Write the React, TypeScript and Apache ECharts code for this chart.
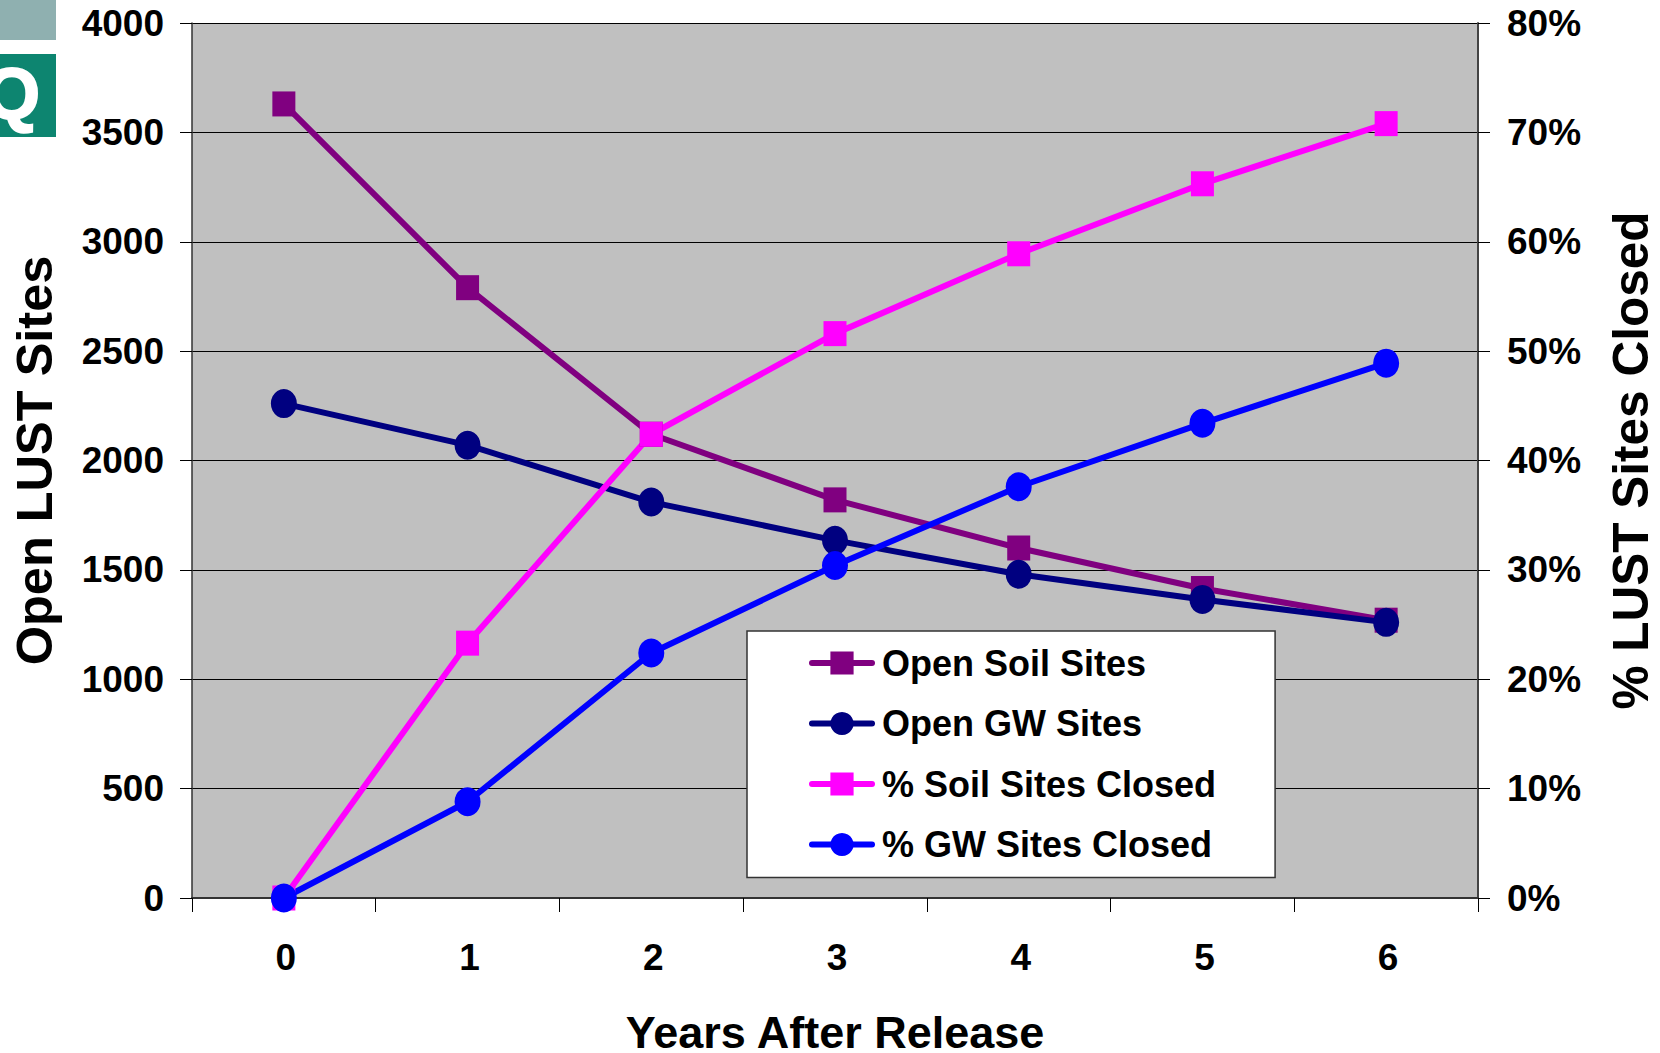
import React, { useEffect, useRef } from "react";
import * as echarts from "echarts";

const years = ["0", "1", "2", "3", "4", "5", "6"];
const openSoil = [3630, 2790, 2120, 1820, 1600, 1415, 1270];
const openGW = [2260, 2070, 1810, 1635, 1480, 1365, 1260];
const pctSoil = [0, 23.3, 42.4, 51.6, 58.9, 65.3, 70.8];
const pctGW = [0, 8.8, 22.4, 30.4, 37.6, 43.4, 48.9];

const FONT = "'Liberation Sans', Arial, sans-serif";

function line(name: string, data: number[], color: string, symbol: string, size: number[], yAxisIndex: number) {
  return {
    name,
    type: "line",
    data,
    yAxisIndex,
    symbol,
    symbolSize: size,
    showSymbol: true,
    clip: false,
    lineStyle: { color, width: 6 },
    itemStyle: { color },
    emphasis: { disabled: true },
  };
}

export default function App() {
  const ref = useRef<HTMLDivElement>(null);
  useEffect(() => {
    const chart = echarts.init(ref.current!, null, { renderer: "svg" });
    chart.setOption({
      animation: false,
      backgroundColor: "#ffffff",
      grid: {
        left: 192,
        right: 182,
        top: 23,
        bottom: 155,
        backgroundColor: "#c0c0c0",
        show: true,
        borderWidth: 0,
        containLabel: false,
        outerBoundsMode: "none",
      },
      xAxis: {
        type: "category",
        data: years,
        boundaryGap: true,
        name: "Years After Release",
        nameLocation: "middle",
        nameGap: 112,
        nameMoveOverlap: false,
        nameTextStyle: { fontFamily: FONT, fontWeight: "bold", fontSize: 45, color: "#000" },
        axisLine: { show: true, onZero: false, lineStyle: { color: "#333", width: 2 } },
        axisTick: { show: true, alignWithLabel: false, length: 14, lineStyle: { color: "#000", width: 1 } },
        axisLabel: { fontFamily: FONT, fontWeight: "bold", fontSize: 37, color: "#000", margin: 41, padding: [0, 0, 0, 4] },
      },
      yAxis: [
        {
          type: "value",
          min: 0,
          max: 4000,
          interval: 500,
          name: "Open LUST Sites",
          nameLocation: "middle",
          nameGap: 132,
          nameMoveOverlap: false,
          nameRotate: 90,
          nameTextStyle: { fontFamily: FONT, fontWeight: "bold", fontSize: 50.5, color: "#000" },
          axisLine: { show: true, lineStyle: { color: "#333", width: 1.5 } },
          axisTick: { show: true, length: 12, lineStyle: { color: "#000", width: 1 } },
          axisLabel: {
            fontFamily: FONT,
            fontWeight: "bold",
            fontSize: 37,
            color: "#000",
            margin: 28,
            padding: [4, 0, 0, 0],
            formatter: (v: number) => String(v),
          },
          splitLine: { show: true, lineStyle: { color: "#000", width: 1 } },
        },
        {
          type: "value",
          min: 0,
          max: 80,
          interval: 10,
          position: "right",
          name: "% LUST Sites Closed",
          nameLocation: "middle",
          nameGap: 127,
          nameMoveOverlap: false,
          nameRotate: 90,
          nameTextStyle: { fontFamily: FONT, fontWeight: "bold", fontSize: 49.5, color: "#000" },
          axisLine: { show: true, lineStyle: { color: "#444", width: 2 } },
          axisTick: { show: true, length: 12, lineStyle: { color: "#000", width: 1 } },
          axisLabel: {
            fontFamily: FONT,
            fontWeight: "bold",
            fontSize: 37,
            color: "#000",
            margin: 29,
            padding: [4, 0, 0, 0],
            formatter: "{value}%",
          },
          splitLine: { show: false },
        },
      ],
      legend: {
        orient: "vertical",
        left: 747,
        top: 631,
        align: "left",
        backgroundColor: "#ffffff",
        borderColor: "#333",
        borderWidth: 1.5,
        padding: [14, 59, 15, 62],
        itemWidth: 60,
        itemHeight: 29,
        itemGap: 24.5,
        lineStyle: { width: 6, cap: "round" },
        data: ["Open Soil Sites", "Open GW Sites", "% Soil Sites Closed", "% GW Sites Closed"],
        textStyle: { fontFamily: FONT, fontWeight: "bold", fontSize: 36, color: "#000", padding: [0, 0, 0, 5] },
      },
      series: [
        line("Open Soil Sites", openSoil, "#800080", "rect", [23, 25], 0),
        line("Open GW Sites", openGW, "#000080", "circle", [26, 29], 0),
        line("% Soil Sites Closed", pctSoil, "#ff00ff", "rect", [23, 25], 1),
        line("% GW Sites Closed", pctGW, "#0000ff", "circle", [26, 29], 1),
      ],
      graphic: [
        { type: "rect", shape: { x: 0, y: 0, width: 56, height: 40 }, style: { fill: "#8fb0b0" }, silent: true },
        { type: "rect", shape: { x: 0, y: 54, width: 56, height: 83 }, style: { fill: "#0d8570" }, silent: true },
        {
          type: "text",
          x: -16,
          y: 58,
          silent: true,
          style: {
            text: "Q",
            fill: "#ffffff",
            stroke: "#ffffff",
            lineWidth: 2,
            fontFamily: FONT,
            fontWeight: "bold",
            fontSize: 72,
            verticalAlign: "top",
          },
        },
      ],
    });
    return () => chart.dispose();
  }, []);
  return <div ref={ref} style={{ position: "absolute", left: 0, top: 0, width: 1660, height: 1053 }} />;
}
